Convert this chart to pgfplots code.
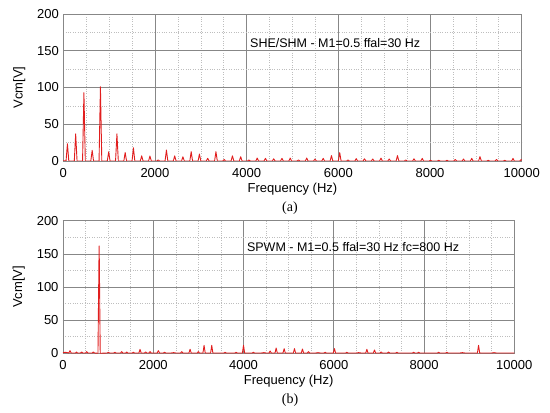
\documentclass[border=0pt]{standalone}
\usepackage{fontspec}
\setmainfont{Liberation Sans}
\newfontfamily\timesfont{Liberation Serif}
\usepackage{pgfplots}
\pgfplotsset{compat=1.18}

\definecolor{specred}{RGB}{225,30,30}
\definecolor{majgrid}{RGB}{135,135,135}
\definecolor{mingrid}{RGB}{190,190,190}

\pgfplotsset{
  spec/.style={
    scale only axis,
    xmin=0, xmax=10000, ymin=0, ymax=200,
    xtick={0,2000,...,10000}, ytick={0,50,...,200},
    minor x tick num=3, minor y tick num=1,
    grid=both,
    major grid style={majgrid, line width=0.7pt},
    minor grid style={mingrid, dotted, line width=0.6pt},
    axis line style={majgrid, line width=0.8pt},
    tick style={majgrid, line width=0.6pt},
    major tick length=3pt, minor tick length=0pt,
    tick align=inside,
    scaled x ticks=false,
    /pgf/number format/assume math mode=true,
    /pgf/number format/1000 sep={},
    tick label style={font=\fontsize{13}{15}\selectfont},
    xticklabel style={yshift=-3.5pt},
    yticklabel style={xshift=-1pt},
    label style={font=\fontsize{13}{15}\selectfont},
    xlabel={Frequency (Hz)},
    ylabel={Vcm[V]},
    xlabel style={yshift=1pt},
    ylabel style={yshift=5pt},
    no marks,
  },
  spectrum/.style={specred, line width=0.9pt, line join=round, mark=none},
}

\begin{document}
\begin{tikzpicture}
\useasboundingbox (0pt,0pt) rectangle (550pt,413pt);

% (a) SHE/SHM
\begin{axis}[spec, at={(63.3pt,252pt)}, anchor=south west, width=458.4pt, height=147pt]
\addplot[spectrum] coordinates {
(0,0.5)(60,0)(90,23.5)(120,0)(240,0)(270,37)(300,0)(420,0)(450,93)(480,0)
(600,0)(630,14.5)(660,0)(780,0)(810,101)(840,0)(960,0)(990,12.5)(1020,0)
(1140,0)(1170,37)(1200,0)(1320,0)(1350,11.5)(1380,0)(1500,0)(1530,18)(1560,0)
(1680,0)(1710,7)(1740,0)(1860,0)(1890,6.8)(1920,0)(2040,0)(2070,1.5)(2100,0)
(2220,0)(2250,15)(2280,0)(2400,0)(2430,7)(2460,0)(2580,0)(2610,5.8)(2640,0)
(2760,0)(2790,12.7)(2820,0)(2940,0)(2970,9.5)(3000,0)(3120,0)(3150,3.6)(3180,0)
(3300,0)(3330,12.7)(3360,0)(3480,0)(3510,2)(3540,0)(3660,0)(3690,7)(3720,0)
(3840,0)(3870,5.8)(3900,0)(4020,0)(4050,1.4)(4080,0)(4200,0)(4230,4)(4260,0)
(4380,0)(4410,3.6)(4440,0)(4560,0)(4590,3)(4620,0)(4740,0)(4770,3.6)(4800,0)
(4920,0)(4950,4)(4980,0)(5100,0)(5130,1.4)(5160,0)(5280,0)(5310,4)(5340,0)
(5460,0)(5490,2.7)(5520,0)(5640,0)(5670,3.6)(5700,0)(5820,0)(5850,7.3)(5880,0)
(6000,0)(6030,11.3)(6060,0)(6180,0)(6210,1.4)(6240,0)(6360,0)(6390,3.2)(6420,0)
(6540,0)(6570,3)(6600,0)(6720,0)(6750,2.7)(6780,0)(6900,0)(6930,4)(6960,0)
(7080,0)(7110,2.7)(7140,0)(7260,0)(7290,7.3)(7320,0)(7440,0)(7470,1.4)(7500,0)
(7620,0)(7650,3)(7680,0)(7800,0)(7830,3.6)(7860,0)(7980,0)(8010,1)(8040,0)
(8160,0)(8190,1)(8220,0)(8340,0)(8370,1)(8400,0)(8520,0)(8550,2)(8580,0)
(8700,0)(8730,2.7)(8760,0)(8880,0)(8910,3.6)(8940,0)(9060,0)(9090,5.9)(9120,0)
(9240,0)(9270,1)(9300,0)(9420,0)(9450,2)(9480,0)(9600,0)(9630,1)(9660,0)
(9780,0)(9810,3.6)(9840,0)(9960,0)(9990,2)(10000,0.5)
};
\node[anchor=west, font=\fontsize{12.5}{15}\selectfont] at (axis cs:4000,160) {SHE/SHM - M1=0.5 ffal=30 Hz};
\end{axis}
\node[font=\timesfont\fontsize{14}{16}\selectfont] at (290pt,205pt) {(a)};

% (b) SPWM
\begin{axis}[spec, at={(63pt,59.7pt)}, anchor=south west, width=451.3pt, height=132.6pt]
\addplot[spectrum] coordinates {
(0,1)(60,1.5)(130,0.5)(155,4)(180,0.5)(280,0.5)(300,2)(320,0.5)(390,0.5)(414,2)(440,0.5)
(500,0.5)(525,2.5)(550,0.5)(650,0.5)(672,2)(695,0.5)(775,0)(800,162)(805,140)(825,0)
(980,0.5)(1005,1.5)(1030,0.5)(1125,0.5)(1150,1.5)(1175,0.5)(1275,0.5)(1300,2.5)(1325,0.5)
(1390,0.5)(1412,2)(1435,0.5)(1535,0.5)(1560,1.5)(1585,0.5)(1682,0.5)(1707,6)(1732,0.5)
(1805,0.5)(1830,2)(1855,0.5)(1905,0.5)(1929,2.5)(1955,0.5)(2088,0.5)(2113,4)(2138,0.5)
(2225,0.5)(2250,1.5)(2275,0.5)(2400,0.5)(2450,1)(2500,0.5)(2607,0.5)(2632,2.5)(2657,0.5)
(2791,0.5)(2816,6)(2841,0.5)(2975,0.5)(3000,2.5)(3025,0.5)(3101,0.5)(3126,12)(3151,0.5)
(3271,0.5)(3296,12)(3321,0.5)(3567,0.5)(3592,1.5)(3617,0.5)(3811,0.5)(3836,1.5)(3861,0.5)
(3975,0.5)(4000,12)(4025,0.5)(4195,0.5)(4220,1.5)(4245,0.5)(4400,0.5)(4450,1)(4500,0.5)
(4565,0.5)(4590,3.5)(4615,0.5)(4698,0.5)(4723,8)(4748,0.5)(4875,0.5)(4900,7)(4925,0.5)
(5104,0.5)(5129,7)(5154,0.5)(5281,0.5)(5306,6.5)(5331,0.5)(5414,0.5)(5439,2.5)(5464,0.5)
(5600,0.5)(5650,1)(5700,0.5)(5784,0.5)(5809,1.5)(5834,0.5)(5990,0.5)(6015,7)(6040,0.5)
(6265,0.5)(6290,1.5)(6315,0.5)(6500,0.5)(6550,1)(6600,0.5)(6708,0.5)(6733,6)(6758,0.5)
(6877,0.5)(6902,5)(6927,0.5)(7025,0.5)(7050,2)(7075,0.5)(7188,0.5)(7213,2)(7238,0.5)
(7374,0.5)(7399,1.5)(7424,0.5)(7743,0.5)(7768,1.5)(7793,0.5)(7854,0.5)(7879,1.5)(7904,0.5)
(8297,0.5)(8322,1.5)(8347,0.5)(8482,0.5)(8507,1.5)(8532,0.5)(8800,0.5)(8850,1)(8900,0.5)
(9183,0.5)(9208,12)(9233,0.5)(9500,0.5)(9550,1)(9600,0.5)(10000,0.5)
};
\node[anchor=west, font=\fontsize{12.5}{15}\selectfont] at (axis cs:4000,160) {SPWM - M1=0.5 ffal=30 Hz fc=800 Hz};
\end{axis}
\node[font=\timesfont\fontsize{14}{16}\selectfont] at (290pt,13pt) {(b)};
\end{tikzpicture}
\end{document}
